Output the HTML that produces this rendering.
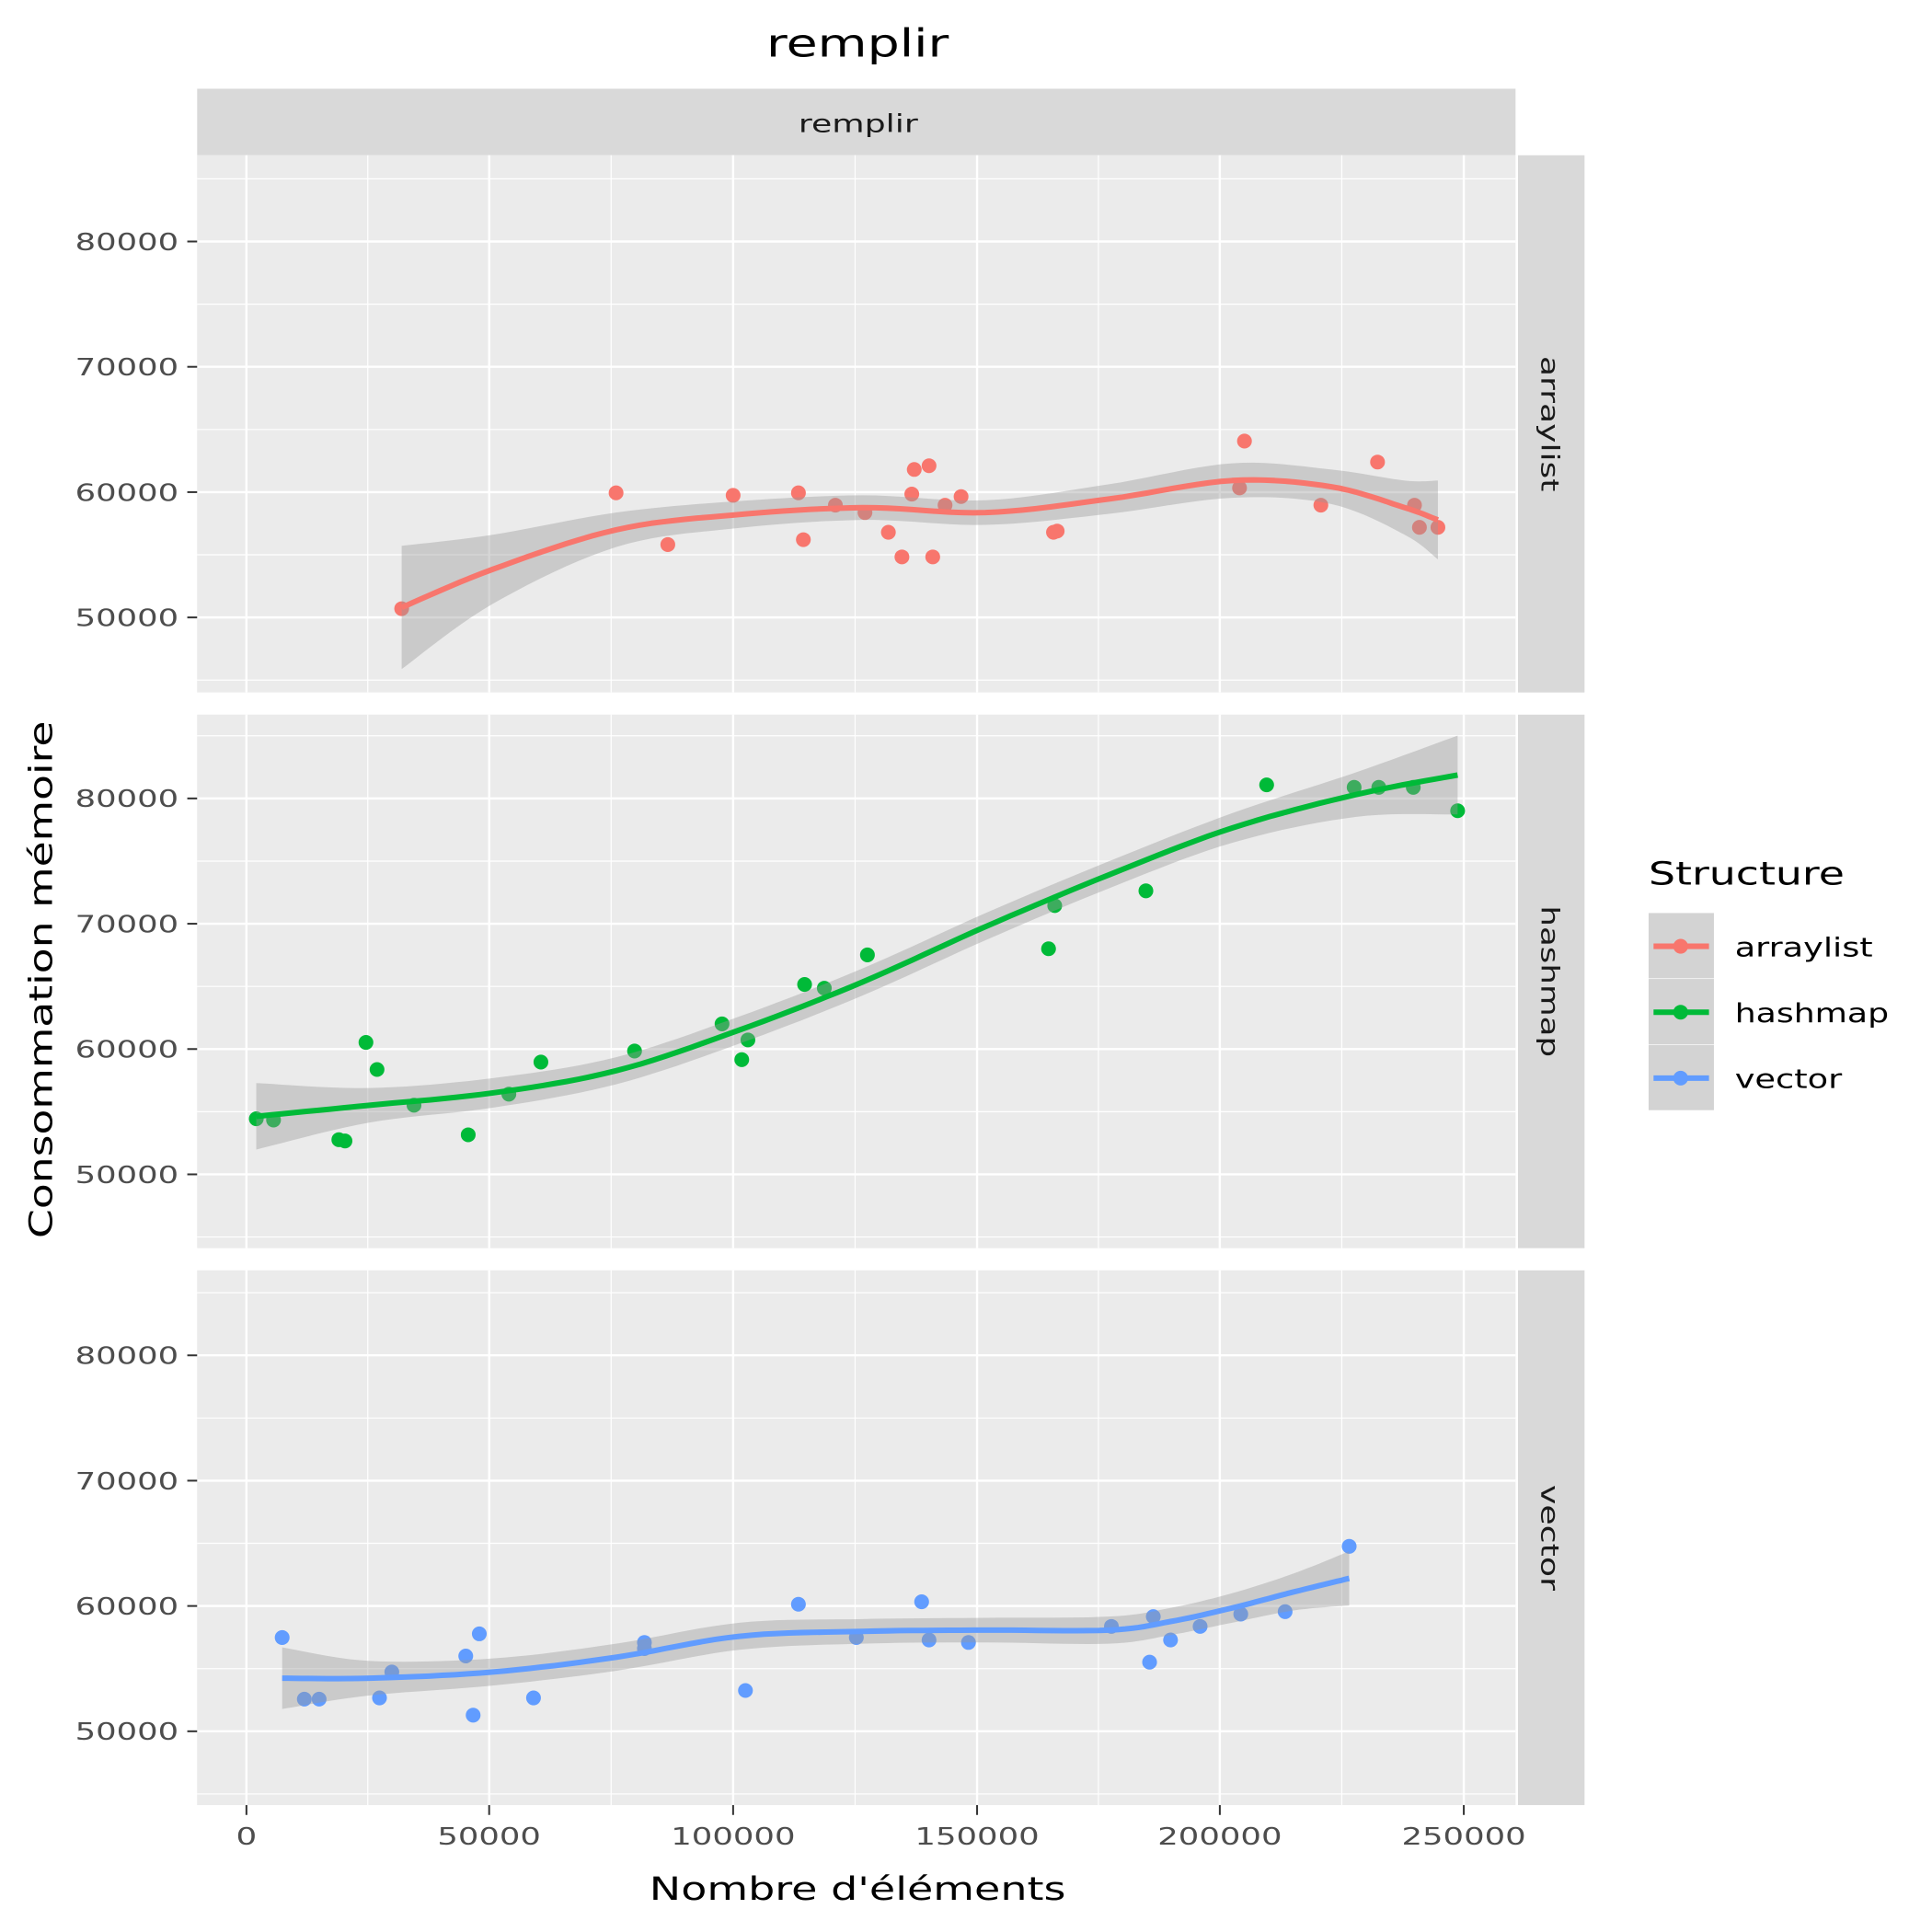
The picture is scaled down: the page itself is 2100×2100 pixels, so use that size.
<!DOCTYPE html>
<html><head><meta charset="utf-8"><style>html,body{margin:0;padding:0;background:#fff}svg{display:block}</style></head>
<body>
<svg id="s" width="2100" height="2100" viewBox="0 0 1568 1568" xmlns="http://www.w3.org/2000/svg" font-family="DejaVu Sans, Liberation Sans, sans-serif">
<rect width="1568" height="1568" fill="#fff"/>
<text x="622" y="46" font-size="31" textLength="148" lengthAdjust="spacingAndGlyphs" fill="#000">remplir</text>
<rect x="160" y="72" width="1070" height="54" fill="#D9D9D9"/>
<text x="648" y="107" font-size="20" textLength="97" lengthAdjust="spacingAndGlyphs" fill="#1A1A1A">remplir</text>
<g id="g"></g>
<text x="527" y="1542" font-size="26" textLength="338" lengthAdjust="spacingAndGlyphs" fill="#000">Nombre d'éléments</text>
<text transform="translate(42,1005) rotate(-90)" font-size="26" textLength="420" lengthAdjust="spacingAndGlyphs" fill="#000">Consommation mémoire</text>
<text x="1338" y="718" font-size="26" textLength="159" lengthAdjust="spacingAndGlyphs" fill="#000">Structure</text>
<g id="leg"></g>
</svg>
<script>
var NS="http://www.w3.org/2000/svg",g=document.getElementById('g'),L=document.getElementById('leg');
function el(p,t,a){var e=document.createElementNS(NS,t);for(var k in a)e.setAttribute(k,a[k]);p.appendChild(e);return e;}
function tx(p,x,y,s,a,c,str,len,tr){var e=el(p,'text',{x:x,y:y,'font-size':s,'text-anchor':a,fill:c});if(len){e.setAttribute('textLength',len);e.setAttribute('lengthAdjust','spacingAndGlyphs');}if(tr)e.setAttribute('transform',tr);e.textContent=str;return e;}
function cr(P){var out=[];for(var i=0;i<P.length-1;i++){var p0=P[Math.max(i-1,0)],p1=P[i],p2=P[i+1],p3=P[Math.min(i+2,P.length-1)];
 for(var t=0;t<1;t+=0.1){var t2=t*t,t3=t2*t;var f=function(a,b,c,d){return 0.5*((2*b)+(-a+c)*t+(2*a-5*b+4*c-d)*t2+(-a+3*b-3*c+d)*t3);};
 out.push([f(p0[0],p1[0],p2[0],p3[0]),f(p0[1],p1[1],p2[1],p3[1]),f(p0[2],p1[2],p2[2],p3[2])]);}}
 out.push(P[P.length-1]);return out;}
var cols=['#F8766D','#00BA38','#619CFF'],names=['arraylist','hashmap','vector'],sl=[110,123,86],ll=[112,125,87];
var panels=[[126,562,196],[580,1013,648],[1031,1465,1100]];
var pts=[
[[326,494],[500,400],[542,442],[595,402],[648,400],[652,438],[678,410],[702,416],[721,432],[732,452],[740,401],[742,381],[754,378],[757,452],[767,410],[780,403],[855,432],[858,431],[1006,396],[1010,358],[1072,410],[1118,375],[1148,410],[1152,428],[1167,428]],
[[208,908],[222,909],[275,925],[280,926],[297,846],[306,868],[336,897],[380,921],[413,888],[439,862],[515,853],[586,831],[602,860],[607,844],[653,799],[669,802],[704,775],[851,770],[856,735],[930,723],[1028,637],[1099,639],[1119,639],[1147,639],[1183,658]],
[[229,1329],[247,1379],[259,1379],[308,1378],[318,1357],[378,1344],[384,1392],[389,1326],[433,1378],[523,1333],[523,1338],[605,1372],[648,1302],[695,1329],[748,1300],[754,1331],[786,1333],[902,1320],[933,1349],[936,1312],[950,1331],[974,1320],[1007,1310],[1043,1308],[1095,1255]]];
var curves=[
[[326,493,50],[400,462,28],[500,430,14],[595,418,11],[700,412,10],[800,416,10],[900,405,12],[1000,390,14],[1080,395,14],[1140,412,22],[1167,422,32]],
[[208,906,27],[300,897,14],[400,887,12],[500,869,11],[600,836,11],[700,797,11],[800,752,11],[900,710,11],[1000,672,12],[1100,645,18],[1183,629,32]],
[[229,1362,25],[300,1362,14],[400,1357,11],[500,1345,11],[600,1328,11],[700,1324,10],[800,1323,10],[900,1323,11],[950,1316,11],[1000,1305,12],[1050,1292,15],[1095,1281,22]]];
var xs=[200,397,595,793,990,1188],xl=['0','50000','100000','150000','200000','250000'];
panels.forEach(function(P,i){
 var t=P[0],b=P[1],y80=P[2],d=101.7;
 el(g,'rect',{x:160,y:t,width:1070,height:b-t,fill:'#EBEBEB'});
 for(var k=0;k<5;k++)el(g,'line',{x1:(xs[k]+xs[k+1])/2,x2:(xs[k]+xs[k+1])/2,y1:t,y2:b,stroke:'#fff','stroke-width':0.9});
 for(var k=-1;k<5;k++){var yy=y80+d*k-d/2;if(yy>t&&yy<b)el(g,'line',{x1:160,x2:1230,y1:yy,y2:yy,stroke:'#fff','stroke-width':0.9});}
 xs.forEach(function(x){el(g,'line',{x1:x,x2:x,y1:t,y2:b,stroke:'#fff','stroke-width':1.8});});
 for(var k=0;k<4;k++){var yy=y80+d*k;el(g,'line',{x1:160,x2:1230,y1:yy,y2:yy,stroke:'#fff','stroke-width':1.8});
  el(g,'line',{x1:152,x2:160,y1:yy,y2:yy,stroke:'#333','stroke-width':1.5});
  tx(g,145,yy+7,19,'end','#4D4D4D',String(80000-10000*k),84);}
 el(g,'rect',{x:1232,y:t,width:54,height:b-t,fill:'#D9D9D9'});
 tx(g,0,0,20,'middle','#1A1A1A',names[i],sl[i],'translate(1251,'+(t+b)/2+') rotate(90)');
 pts[i].forEach(function(p){el(g,'circle',{cx:p[0],cy:p[1],r:6,fill:cols[i]});});
 var c=cr(curves[i]),up=c.map(function(p){return p[0].toFixed(1)+','+(p[1]-p[2]).toFixed(1);}),lo=c.slice().reverse().map(function(p){return p[0].toFixed(1)+','+(p[1]+p[2]).toFixed(1);});
 el(g,'polygon',{points:up.concat(lo).join(' '),fill:'#999','fill-opacity':0.4});
 el(g,'polyline',{points:c.map(function(p){return p[0].toFixed(1)+','+p[1].toFixed(1);}).join(' '),fill:'none',stroke:cols[i],'stroke-width':4.5,'stroke-linejoin':'round'});
});
xs.forEach(function(x,k){el(g,'line',{x1:x,x2:x,y1:1465,y2:1473,stroke:'#333','stroke-width':1.5});tx(g,x,1497,19,'middle','#4D4D4D',xl[k],k==0?17:(k==1?84:101));});
for(var i=0;i<3;i++){var y=741+i*53.5;
 el(L,'rect',{x:1338,y:y,width:53,height:53,fill:'#D3D3D3'});
 el(L,'line',{x1:1342,x2:1387,y1:y+27,y2:y+27,stroke:cols[i],'stroke-width':4.5});
 el(L,'circle',{cx:1364,cy:y+27,r:6,fill:cols[i]});
 tx(L,1408,y+35,21,'start','#000',names[i],ll[i]);}
</script>
</body></html>
